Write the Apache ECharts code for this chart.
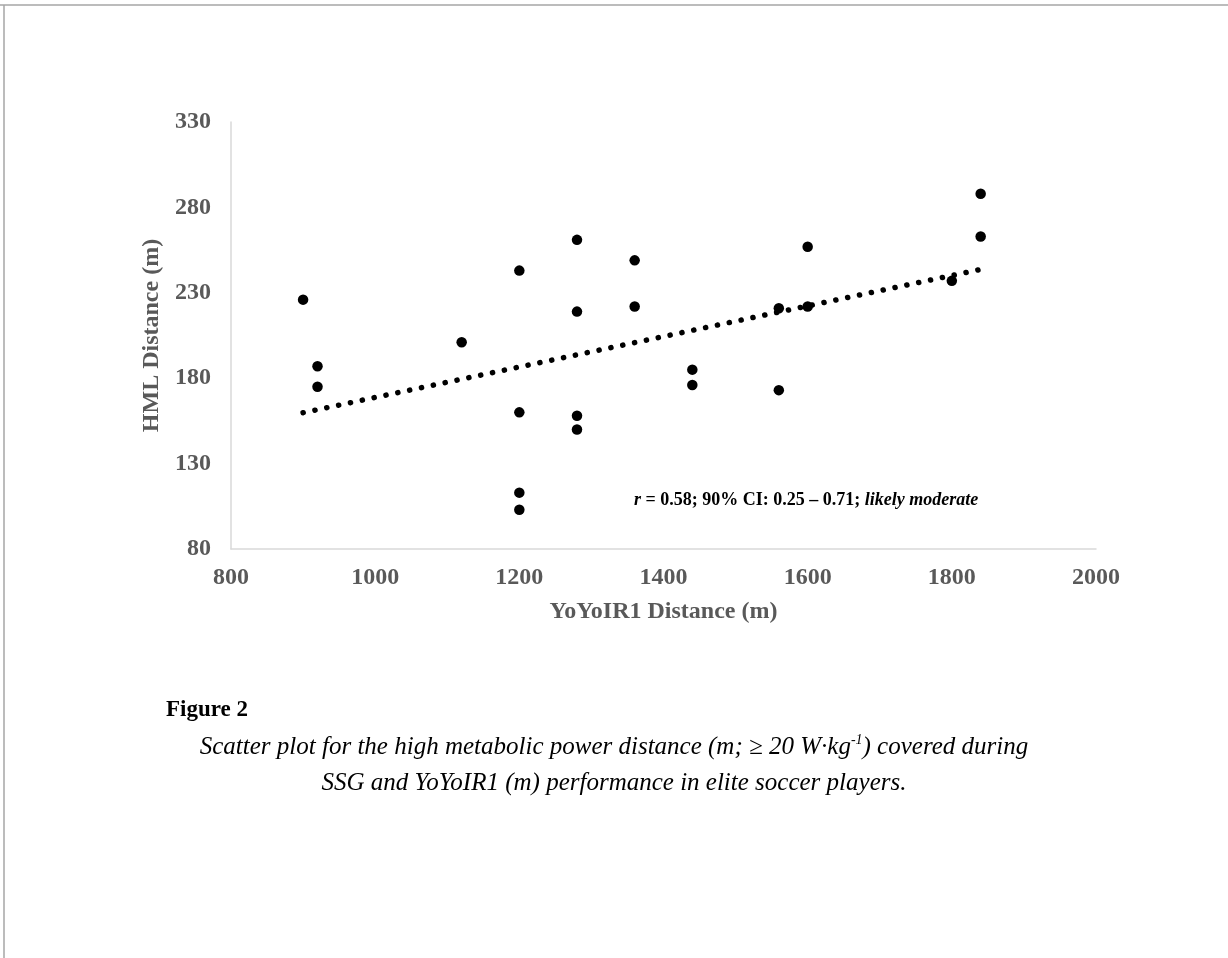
<!DOCTYPE html>
<html>
<head>
<meta charset="utf-8">
<script src="https://cdn.jsdelivr.net/npm/echarts@6/dist/echarts.min.js"></script>
<style>
html,body{margin:0;padding:0;background:#fff;}
#chart{width:1228px;height:958px;}
</style>
</head>
<body>
<div id="chart"></div>
<script>
// YoYoIR1 distance (m)
var yoyoDistance = [900, 920, 920, 1120, 1200, 1200, 1200, 1200, 1280, 1280, 1280, 1280, 1360, 1360, 1440, 1440, 1560, 1560, 1600, 1600, 1800, 1840, 1840];
// HML distance (m)
var hmlDistance = [226, 187, 175, 201, 243, 160, 113, 103, 261, 219, 158, 150, 249, 222, 185, 176, 221, 173, 257, 222, 237, 288, 263];
// dotted trend line endpoints
var trendX = [900, 1840];
var trendY = [159.8, 243.7];
var xTicks = [800, 1000, 1200, 1400, 1600, 1800, 2000];
var yTicks = [80, 130, 180, 230, 280, 330];

var points = yoyoDistance.map(function (x, i) { return [x, hmlDistance[i]]; });
var trend = trendX.map(function (x, i) { return [x, trendY[i]]; });

var serif = '"Liberation Serif", "Times New Roman", serif';
var gray = '#595959';

var chart = echarts.init(document.getElementById('chart'), null, {renderer: 'canvas'});
chart.setOption({
  animation: false,
  backgroundColor: '#fff',
  grid: {left: 231, right: 132, top: 122, bottom: 409, containLabel: false},
  xAxis: {
    type: 'value', min: xTicks[0], max: xTicks[xTicks.length - 1], interval: 200,
    name: 'YoYoIR1 Distance (m)', nameLocation: 'middle', nameGap: 51,
    nameTextStyle: {fontFamily: serif, fontWeight: 'bold', fontSize: 24, color: gray},
    axisLine: {show: true, lineStyle: {color: '#d9d9d9', width: 1.5}},
    axisTick: {show: false},
    splitLine: {show: false},
    axisLabel: {margin: 17, fontFamily: serif, fontWeight: 'bold', fontSize: 24, color: gray,
      formatter: function (v) { return String(v); }}
  },
  yAxis: {
    type: 'value', min: yTicks[0], max: yTicks[yTicks.length - 1], interval: 50,
    name: 'HML Distance (m)', nameLocation: 'middle', nameGap: 58, nameRotate: 90,
    nameTextStyle: {fontFamily: serif, fontWeight: 'bold', fontSize: 24, color: gray},
    axisLine: {show: true, lineStyle: {color: '#d9d9d9', width: 1.5}},
    axisTick: {show: false},
    splitLine: {show: false},
    axisLabel: {margin: 20, fontFamily: serif, fontWeight: 'bold', fontSize: 24, color: gray,
      formatter: function (v) { return String(v); }}
  },
  series: [
    {
      type: 'line', data: trend, showSymbol: false, silent: true, z: 1,
      lineStyle: {color: '#000', width: 5.5, opacity: 1, type: [0.1, 12], cap: 'round'}
    },
    {
      type: 'scatter', data: points, symbol: 'circle', symbolSize: 10.5, z: 2,
      itemStyle: {color: '#000', opacity: 1}
    }
  ],
  graphic: [
    {type: 'line', shape: {x1: 0, y1: 5, x2: 1228, y2: 5}, style: {stroke: '#a6a6a6', lineWidth: 1.5}},
    {type: 'line', shape: {x1: 4, y1: 5, x2: 4, y2: 958}, style: {stroke: '#a6a6a6', lineWidth: 1.5}},
    {
      type: 'text', left: 634, top: 491,
      style: {
        text: '{i|r}{b| = 0.58; 90% CI: 0.25 – 0.71; }{i|likely moderate}',
        rich: {
          i: {fontFamily: serif, fontWeight: 'bold', fontStyle: 'italic', fontSize: 18, fill: '#000'},
          b: {fontFamily: serif, fontWeight: 'bold', fontSize: 18, fill: '#000'}
        }
      }
    },
    {
      type: 'text', left: 166, top: 699,
      style: {text: 'Figure 2', fontFamily: serif, fontWeight: 'bold', fontSize: 23, fill: '#000'}
    },
    {
      type: 'text', x: 614, y: 733,
      style: {
        text: '{n|Scatter plot for the high metabolic power distance (m; ≥ 20 W·kg}{s|-1}{n|) covered during}',
        textAlign: 'center',
        rich: {
          n: {fontFamily: serif, fontStyle: 'italic', fontSize: 25, fill: '#000', lineHeight: 28},
          s: {fontFamily: serif, fontStyle: 'italic', fontSize: 14, fill: '#000', lineHeight: 28, verticalAlign: 'top'}
        }
      }
    },
    {
      type: 'text', x: 614, y: 771,
      style: {
        text: 'SSG and YoYoIR1 (m) performance in elite soccer players.',
        textAlign: 'center',
        fontFamily: serif, fontStyle: 'italic', fontSize: 25, fill: '#000'
      }
    }
  ]
});
</script>
</body>
</html>
